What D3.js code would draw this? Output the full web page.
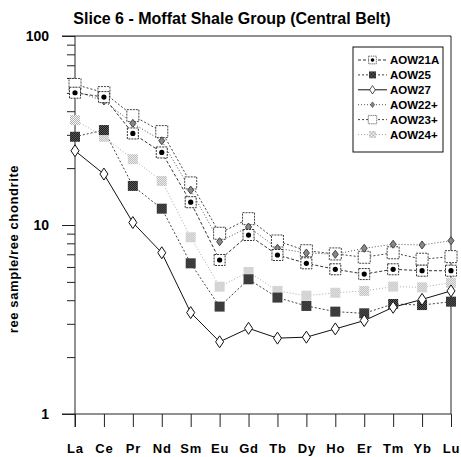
<!DOCTYPE html>
<html><head><meta charset="utf-8">
<script src="https://cdn.jsdelivr.net/npm/d3@7"></script>
<style>body{margin:0;background:#fff}svg{display:block}</style>
</head><body>
<script>
const categories = ["La","Ce","Pr","Nd","Sm","Eu","Gd","Tb","Dy","Ho","Er","Tm","Yb","Lu"];
const AOW21A = [50.1,47.5,30.5,24.2,13.2,6.53,8.85,6.94,6.27,5.83,5.50,5.83,5.73,5.73];
const AOW25  = [29.3,31.8,16.1,12.2,6.27,3.70,5.16,4.13,3.73,3.48,3.41,3.82,3.77,3.93];
const AOW27  = [24.7,18.6,10.3,7.13,3.44,2.41,2.84,2.52,2.55,2.82,3.12,3.67,4.04,4.48];
const AOW22p = [51.2,45.3,34.5,27.9,15.3,8.16,9.76,7.53,7.11,7.0,7.53,7.91,7.84,8.26];
const AOW23p = [55.4,50.2,37.9,31.2,16.7,9.04,10.8,8.23,7.31,7.03,6.75,7.13,6.59,6.80];
const AOW24p = [35.9,29.3,22.3,17.1,8.61,4.72,5.64,4.48,4.23,4.38,4.48,4.72,4.68,4.95];
const seriesNames = ["AOW21A","AOW25","AOW27","AOW22+","AOW23+","AOW24+"];
const majorTicks = [1,10,100];
const minorTicks = [2,3,4,5,6,7,8,9,20,30,40,50,60,70,80,90];
const title = "Slice 6 - Moffat Shale Group (Central Belt)";
const yLabel = "ree sample/ree chondrite";

const W=461,H=457;
const svg=d3.select("body").append("svg").attr("width",W).attr("height",H);
const defs=svg.append("defs");
function checker(id,a,b){
  const p=defs.append("pattern").attr("id",id).attr("patternUnits","userSpaceOnUse").attr("width",2).attr("height",2);
  p.append("rect").attr("width",2).attr("height",2).attr("fill",a);
  p.append("rect").attr("width",1).attr("height",1).attr("fill",b);
  p.append("rect").attr("x",1).attr("y",1).attr("width",1).attr("height",1).attr("fill",b);
}
checker("darkHT","#111","#666");
checker("lightHT","#fff","#aaa");

const font="'Liberation Sans', Arial, sans-serif";
const x=d3.scalePoint().domain(categories).range([75,451]);
const y=d3.scaleLog().domain([1,100]).range([414,36]);

// frame
const fr=svg.append("g").attr("stroke","#222").attr("stroke-width",1).attr("fill","none");
fr.append("line").attr("x1",62).attr("x2",451).attr("y1",y(100)).attr("y2",y(100));
fr.append("line").attr("x1",62).attr("x2",451).attr("y1",y(1)).attr("y2",y(1));
fr.append("line").attr("x1",451).attr("x2",451).attr("y1",y(100)).attr("y2",y(1));

// y axis minor
svg.append("g").attr("transform","translate(75,0)")
  .call(d3.axisLeft(y).tickValues(minorTicks).tickSize(8).tickFormat(""))
  .call(g=>{g.select(".domain").remove();g.selectAll("line").attr("stroke","#222");});
// y axis major
svg.append("g").attr("transform","translate(75,0)")
  .call(d3.axisLeft(y).tickValues(majorTicks).tickSize(13).tickPadding(13).tickFormat(d3.format("d")))
  .call(g=>{g.select(".domain").attr("d","M0,36V427").attr("stroke","#222");
    g.selectAll("line").attr("stroke","#222");
    g.selectAll("text").attr("font-family",font).attr("font-weight","bold").attr("font-size",14).attr("fill","#000");});
// x axis
svg.append("g").attr("transform","translate(0,414)")
  .call(d3.axisBottom(x).tickSize(13).tickPadding(17))
  .call(g=>{g.select(".domain").remove();
    g.selectAll("line").attr("stroke","#222");
    g.selectAll("text").attr("font-family",font).attr("font-weight","bold").attr("font-size",13).attr("letter-spacing","0.8px").attr("fill","#000");});

svg.append("text").attr("x",232).attr("y",24).attr("text-anchor","middle")
  .attr("font-family",font).attr("font-weight","bold").attr("font-size",16).text(title);
svg.append("text").attr("transform","translate(18,249) rotate(-90)").attr("text-anchor","middle")
  .attr("font-family",font).attr("font-weight","bold").attr("font-size",13).attr("letter-spacing","0.6px").text(yLabel);

const styles={
  "AOW21A":{data:AOW21A,stroke:"#333",dash:"3,2",marker:"dotsq"},
  "AOW25":{data:AOW25,stroke:"#444",dash:"2,2",marker:"darksq"},
  "AOW27":{data:AOW27,stroke:"#111",dash:null,marker:"diamond"},
  "AOW22+":{data:AOW22p,stroke:"#555",dash:"1,2",marker:"smdiamond"},
  "AOW23+":{data:AOW23p,stroke:"#444",dash:"2,2",marker:"opensq"},
  "AOW24+":{data:AOW24p,stroke:"#aaa",dash:"1,2",marker:"lightsq"}
};
function drawMarker(g,type){
  if(type==="dotsq"){
    g.append("rect").attr("x",-5.5).attr("y",-5.5).attr("width",11).attr("height",11).attr("fill","#fff").attr("stroke","#333").attr("stroke-dasharray","2,1");
    g.append("circle").attr("r",2.6).attr("fill","#000");
  } else if(type==="darksq"){
    g.append("rect").attr("x",-5).attr("y",-5).attr("width",10).attr("height",10).attr("fill","url(#darkHT)");
  } else if(type==="diamond"){
    g.append("path").attr("d","M0,-6L4,0L0,6L-4,0Z").attr("fill","#fff").attr("stroke","#111");
  } else if(type==="smdiamond"){
    g.append("path").attr("d","M0,-4L3,0L0,4L-3,0Z").attr("fill","#888").attr("stroke","#444");
  } else if(type==="opensq"){
    g.append("rect").attr("x",-6).attr("y",-6).attr("width",12).attr("height",12).attr("fill","#fff").attr("stroke","#444").attr("stroke-dasharray","2,1");
  } else if(type==="lightsq"){
    g.append("rect").attr("x",-5).attr("y",-5).attr("width",10).attr("height",10).attr("fill","url(#lightHT)");
  }
}
const order=["AOW24+","AOW23+","AOW22+","AOW21A","AOW25","AOW27"];
const line=d3.line().x((d,i)=>x(categories[i])).y(d=>y(d));
order.forEach(name=>{
  const s=styles[name];
  svg.append("path").attr("d",line(s.data)).attr("fill","none").attr("stroke",s.stroke).attr("stroke-width",1).attr("stroke-dasharray",s.dash);
});
order.forEach(name=>{
  const s=styles[name];
  svg.append("g").selectAll("g").data(s.data).join("g")
    .attr("transform",(d,i)=>`translate(${x(categories[i])},${y(d)})`)
    .each(function(){drawMarker(d3.select(this),s.marker);});
});

// legend
const lg=svg.append("g");
lg.append("rect").attr("x",353).attr("y",47).attr("width",90).attr("height",105).attr("fill","#fff").attr("stroke","#111");
seriesNames.forEach((name,i)=>{
  const s=styles[name]; const yy=60+i*14.9;
  lg.append("line").attr("x1",358).attr("x2",387).attr("y1",yy).attr("y2",yy).attr("stroke",s.stroke).attr("stroke-dasharray",s.dash);
  const m=lg.append("g").attr("transform",`translate(372.5,${yy}) scale(0.7)`); drawMarker(m,s.marker);
  lg.append("text").attr("x",390).attr("y",yy+4).attr("font-family",font).attr("font-weight","bold").attr("font-size",11.5).text(name);
});
</script>
</body></html>
